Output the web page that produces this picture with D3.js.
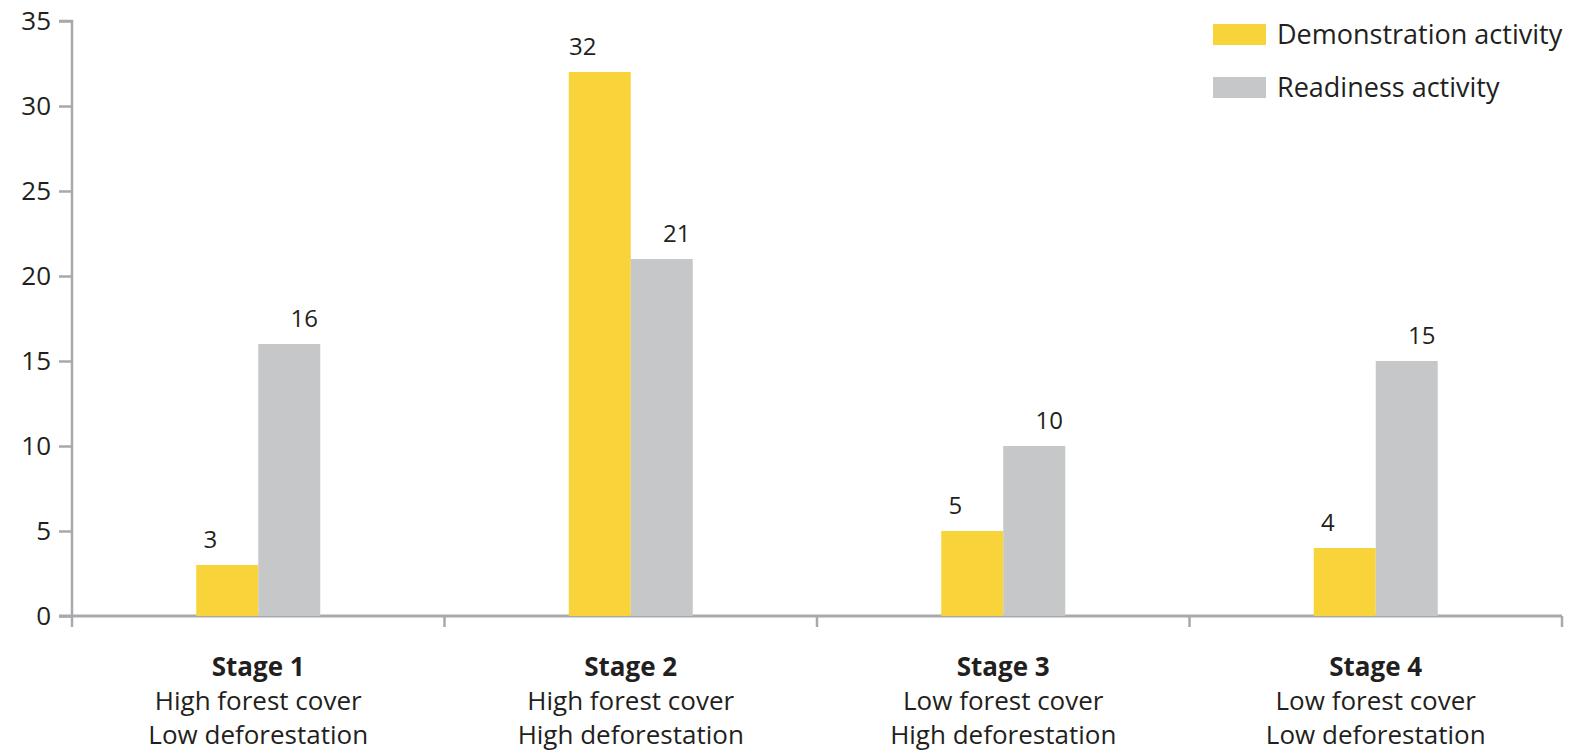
<!DOCTYPE html>
<html>
<head>
<meta charset="utf-8">
<script src="https://cdn.jsdelivr.net/npm/d3@7"></script>
<style>
  body { margin: 0; background: #fff; }
  text { font-family: "Open Sans", sans-serif; fill: #231f20; }
</style>
</head>
<body>
<svg width="1581" height="755"></svg>
<script>
// chart data
let stages = ["Stage 1", "Stage 2", "Stage 3", "Stage 4"]
let coverLabels = ["High forest cover", "High forest cover", "Low forest cover", "Low forest cover"]
let deforLabels = ["Low deforestation", "High deforestation", "High deforestation", "Low deforestation"]
let seriesNames = ["Demonstration activity", "Readiness activity"]
let demonstration = [3, 32, 5, 4]
let readiness = [16, 21, 10, 15]
let yTicks = [0, 5, 10, 15, 20, 25, 30, 35]

let colors = ["#f9d33a", "#c6c7c9"]
let axisColor = "#a7a9ac"

let svg = d3.select("svg")

let xScale = d3.scaleBand()
  .domain(stages)
  .range([72, 1562])

let yScale = d3.scaleLinear()
  .domain([0, 35])
  .range([616, 21])

let barW = 62

// y axis
let yAxis = svg.append("g")
  .attr("transform", "translate(72,0)")
  .call(d3.axisLeft(yScale).tickValues(yTicks).tickSize(13).tickPadding(9))
yAxis.select(".domain").attr("stroke", axisColor).attr("stroke-width", 2.5)
  .attr("d", "M-13,21H0V616")
yAxis.selectAll(".tick line").attr("stroke", axisColor).attr("stroke-width", 2.5)
yAxis.selectAll(".tick text").style("font-size", "26px").attr("fill", "#231f20")
  .attr("x", -21).style("text-anchor", "end")

// x axis line and category separators
svg.append("line")
  .attr("x1", 59).attr("x2", 1562)
  .attr("y1", 616).attr("y2", 616)
  .attr("stroke", axisColor).attr("stroke-width", 3)

let seps = stages.map(s => xScale(s)).concat([xScale.range()[1]])
svg.selectAll(".sep")
  .data(seps)
  .enter()
  .append("line")
  .attr("class", "sep")
  .attr("x1", d => d).attr("x2", d => d)
  .attr("y1", 616).attr("y2", 627)
  .attr("stroke", axisColor).attr("stroke-width", 2.5)

// bars
let series = [demonstration, readiness]
series.forEach(function(vals, i) {
  svg.selectAll(".bar" + i)
    .data(vals)
    .enter()
    .append("rect")
    .attr("class", "bar" + i)
    .attr("x", (d, j) => xScale(stages[j]) + xScale.bandwidth() / 2 - barW + i * barW)
    .attr("y", d => yScale(d))
    .attr("width", barW)
    .attr("height", d => yScale(0) - yScale(d))
    .style("fill", colors[i])

  // value labels (offset like the original)
  svg.selectAll(".lab" + i)
    .data(vals)
    .enter()
    .append("text")
    .attr("class", "lab" + i)
    .attr("x", (d, j) => xScale(stages[j]) + xScale.bandwidth() / 2 - barW / 2 + i * barW + (i == 0 ? -17 : 15))
    .attr("y", d => yScale(d) - 17)
    .attr("text-anchor", "middle")
    .style("font-size", "24px")
    .text(d => d)
})

// category labels
let cat = svg.selectAll(".cat")
  .data(stages)
  .enter()
  .append("text")
  .attr("class", "cat")
  .attr("text-anchor", "middle")
  .attr("x", d => xScale(d) + xScale.bandwidth() / 2)
  .style("font-size", "26px")
cat.append("tspan").attr("y", 676).style("font-weight", "bold").text(d => d)
cat.append("tspan").attr("x", d => xScale(d) + xScale.bandwidth() / 2).attr("y", 710).text((d, i) => coverLabels[i])
cat.append("tspan").attr("x", d => xScale(d) + xScale.bandwidth() / 2).attr("y", 744).text((d, i) => deforLabels[i])

// legend
let legend = svg.selectAll(".legend")
  .data(seriesNames)
  .enter()
  .append("g")
  .attr("class", "legend")
  .attr("transform", (d, i) => "translate(1213," + (24 + i * 53) + ")")
legend.append("rect")
  .attr("width", 53).attr("height", 21)
  .style("fill", (d, i) => colors[i])
legend.append("text")
  .attr("x", 64).attr("y", 20)
  .style("font-size", "27px")
  .text(d => d)
</script>
</body>
</html>
